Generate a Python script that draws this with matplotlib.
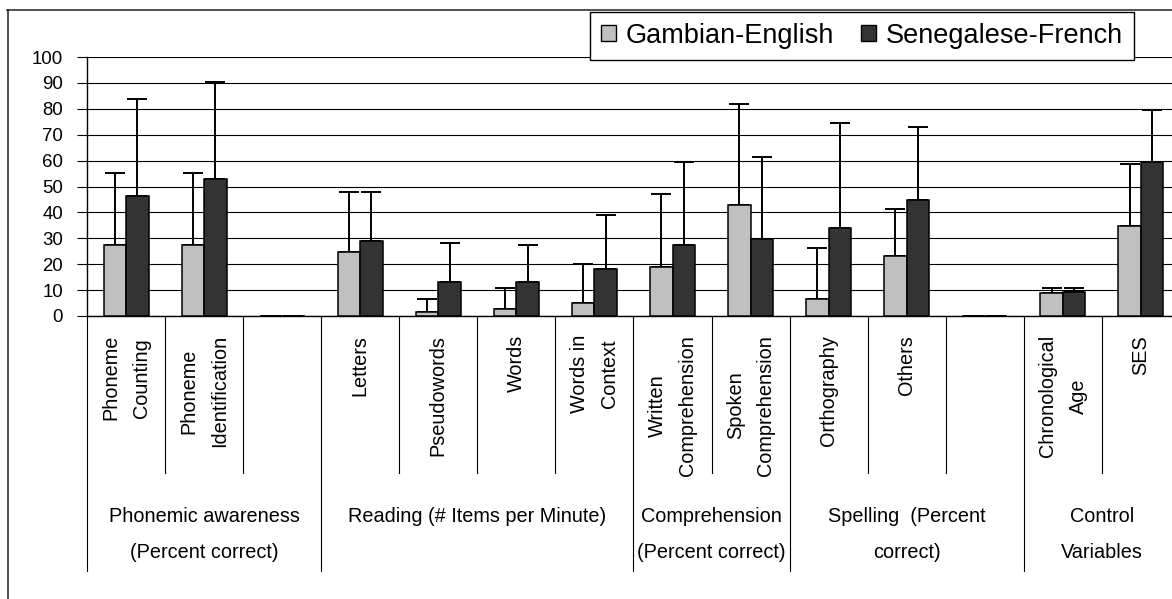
import numpy as np
import matplotlib
matplotlib.use("Agg")
import matplotlib.pyplot as plt
from matplotlib import font_manager
from matplotlib.patches import Patch
from matplotlib.lines import Line2D
from matplotlib.transforms import blended_transform_factory

# ---- data -------------------------------------------------------------
categories = [
    "Phoneme\nCounting", "Phoneme\nIdentification", "",
    "Letters", "Pseudowords", "Words", "Words in\nContext",
    "Written\nComprehension", "Spoken\nComprehension",
    "Orthography", "Others", "",
    "Chronological\nAge", "SES",
]
group_labels = [
    ["Phonemic awareness", "(Percent correct)"],
    ["Reading (# Items per Minute)"],
    ["Comprehension", "(Percent correct)"],
    ["Spelling  (Percent", "correct)"],
    ["Control", "Variables"],
]
group_sizes = [3, 4, 2, 3, 2]

series_names = ["Gambian-English", "Senegalese-French"]
series_colors = ["#c0c0c0", "#333333"]

gambian_mean = [27.3, 27.3, 0, 24.8, 1.7, 2.6, 5.0, 19.0, 43.0, 6.6, 23.2, 0, 9.0, 34.7]
gambian_sd = [28.0, 28.0, np.nan, 23.1, 5.0, 8.3, 15.1, 28.2, 38.9, 19.8, 18.1, np.nan, 1.8, 23.9]
senegal_mean = [46.3, 52.9, 0, 29.1, 13.3, 13.3, 18.3, 27.3, 29.9, 33.8, 44.7, 0, 9.1, 59.6]
senegal_sd = [37.4, 37.3, np.nan, 18.8, 14.9, 14.0, 20.7, 32.2, 31.4, 40.6, 28.1, np.nan, 1.7, 19.8]

yticks = list(range(0, 101, 10))

# ---- fonts ------------------------------------------------------------
available = {f.name for f in font_manager.fontManager.ttflist}
if "Liberation Sans Narrow" in available:
    narrow, nscale = "Liberation Sans Narrow", 1.0
else:
    narrow, nscale = "Liberation Sans", 0.84
regular = "Liberation Sans" if "Liberation Sans" in available else "DejaVu Sans"

# ---- figure -----------------------------------------------------------
W, H = 1172, 599
fig = plt.figure(figsize=(W / 100, H / 100), dpi=100)
fig.patch.set_facecolor("white")


def fx(x):
    return x / W


def fy(y):
    return 1 - y / H


slot_px = 78.07
n = len(categories)
ax = fig.add_axes([fx(87), fy(316), fx(87 + slot_px * n) - fx(87), fy(57) - fy(316)])

x = np.arange(n)
bw = 0.288
ax.bar(x - bw / 2, gambian_mean, bw, color=series_colors[0], edgecolor="black",
       linewidth=1.1, zorder=3)
ax.bar(x + bw / 2, senegal_mean, bw, color=series_colors[1], edgecolor="black",
       linewidth=1.1, zorder=3)

zeros = np.zeros(n)
ax.errorbar(x - bw / 2, gambian_mean, yerr=[zeros, gambian_sd], fmt="none",
            ecolor="black", elinewidth=1.4, capsize=7.2, capthick=1.4, zorder=2)
ax.errorbar(x + bw / 2, senegal_mean, yerr=[zeros, senegal_sd], fmt="none",
            ecolor="black", elinewidth=1.4, capsize=7.2, capthick=1.4, zorder=2)

ax.set_xlim(-0.5, n - 0.5)
ax.set_ylim(0, 100)
ax.set_yticks(yticks)
ax.set_xticks([])
ax.yaxis.grid(True, color="black", linewidth=0.8)
ax.set_axisbelow(True)
for side in ("top", "right"):
    ax.spines[side].set_visible(False)
ax.spines["left"].set_linewidth(1.0)
ax.spines["bottom"].set_linewidth(1.0)
ax.tick_params(axis="y", direction="out", length=7.2, width=0.8, pad=10,
               labelsize=16 * nscale)
for lab in ax.get_yticklabels():
    lab.set_fontfamily(narrow)

# ---- category axis: labels and divider lines --------------------------
blend = blended_transform_factory(ax.transData, fig.transFigure)
for i, lab in enumerate(categories):
    if lab:
        ax.text(i, fy(335), lab, transform=blend, rotation=90, ha="center",
                va="top", multialignment="center", linespacing=1.75,
                fontsize=17 * nscale, fontfamily=narrow, color="black")

group_edges = np.concatenate([[0], np.cumsum(group_sizes)])
for k in range(n + 1):
    bottom = 571 if k in group_edges else 473
    ax.add_line(Line2D([k - 0.5, k - 0.5], [fy(316), fy(bottom)], transform=blend,
                       color="black", linewidth=0.8, clip_on=False))

for g, lines in enumerate(group_labels):
    center = (group_edges[g] + group_edges[g + 1] - 1) / 2
    for j, line in enumerate(lines):
        ax.text(center, fy(522 + 36.5 * j), line, transform=blend, ha="center",
                va="baseline", fontsize=17 * nscale, fontfamily=narrow,
                color="black")

# ---- legend -----------------------------------------------------------
handles = [Patch(facecolor=c, edgecolor="black", linewidth=1.0) for c in series_colors]
leg = fig.legend(handles, series_names, loc="upper left",
                 bbox_to_anchor=(fx(590), fy(12)), ncol=2, frameon=True,
                 fancybox=False, edgecolor="black", framealpha=1,
                 prop={"family": regular, "size": 19.5},
                 handlelength=0.55, handleheight=0.55, handletextpad=0.37,
                 columnspacing=1.0, borderpad=0.4, borderaxespad=0)
leg.get_frame().set_linewidth(1.0)

# ---- chart frame ------------------------------------------------------
fig.add_artist(Line2D([fx(7.5), fx(7.5)], [fy(9.5), 0], transform=fig.transFigure,
                      color="#222222", linewidth=1.1))
fig.add_artist(Line2D([fx(7), 1], [fy(9.5), fy(9.5)], transform=fig.transFigure,
                      color="#222222", linewidth=1.1))

fig.savefig("out.png", dpi=100, facecolor="white")
